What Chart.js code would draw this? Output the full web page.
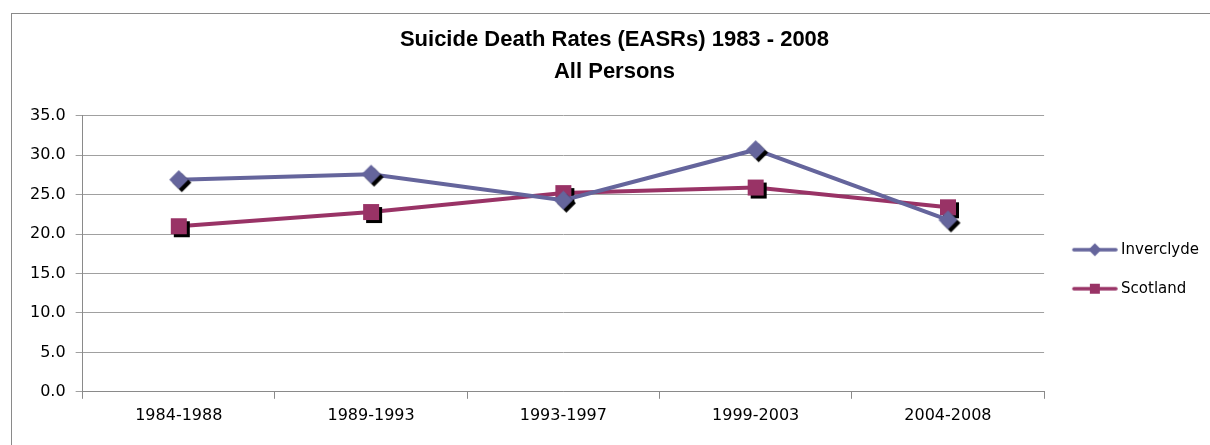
<!DOCTYPE html>
<html lang="en">
<head>
  <meta charset="UTF-8" />
  <title>Suicide Death Rates</title>
  <script src="https://cdn.jsdelivr.net/npm/chart.js"></script>
  <style>
    body {
      margin: 0;
      background: #fff;
      width: 1210px;
      height: 445px;
      overflow: hidden;
      position: relative;
    }
    .frame {
      position: absolute;
      left: 11px;
      top: 13px;
      width: 1300px;
      height: 500px;
      border-top: 1px solid #8a8a8a;
      border-left: 1px solid #8a8a8a;
    }
    .wrap {
      position: absolute;
      left: 0;
      top: 0;
      width: 1210px;
      height: 445px;
    }
  </style>
</head>
<body>
  <div class="frame"></div>
  <div class="wrap"><canvas id="rates"></canvas></div>

  <script>
    const periods = ['1984-1988', '1989-1993', '1993-1997', '1999-2003', '2004-2008'];
    const inverclyde = [26.9, 27.6, 24.3, 30.7, 21.8];
    const scotland = [21.0, 22.8, 25.2, 25.9, 23.4];
    const titleLines = ['Suicide Death Rates (EASRs) 1983 - 2008', 'All Persons'];

    const blue = '#65659c';
    const plum = '#993366';

    function shape(ctx, kind, cx, cy, r) {
      ctx.beginPath();
      if (kind === 'diamond') {
        ctx.moveTo(cx, cy - r);
        ctx.lineTo(cx + r, cy);
        ctx.lineTo(cx, cy + r);
        ctx.lineTo(cx - r, cy);
      } else {
        ctx.rect(cx - r, cy - r, r * 2, r * 2);
      }
      ctx.closePath();
      ctx.fill();
    }

    // marker with the little black drop shadow
    function marker(kind, color, r) {
      const size = Math.ceil((r + 4) * 2);
      const c = document.createElement('canvas');
      c.width = size;
      c.height = size;
      const ctx = c.getContext('2d');
      const m = size / 2;
      ctx.fillStyle = '#000';
      shape(ctx, kind, m + 3, m + 3, r);
      ctx.fillStyle = color;
      shape(ctx, kind, m, m, r);
      return c;
    }

    // legend sample: line with marker on it, blank margin on the left
    function legendIcon(kind, color, r) {
      const c = document.createElement('canvas');
      c.width = 54;
      c.height = 16;
      const ctx = c.getContext('2d');
      ctx.strokeStyle = color;
      ctx.lineWidth = 3.5;
      ctx.lineCap = 'round';
      ctx.beginPath();
      ctx.moveTo(10, 8);
      ctx.lineTo(52, 8);
      ctx.stroke();
      ctx.fillStyle = color;
      shape(ctx, kind, 31, 8, r);
      return c;
    }

    const series = [
      { label: 'Inverclyde', data: inverclyde, color: blue, kind: 'diamond', r: 9.5, lr: 6.5 },
      { label: 'Scotland', data: scotland, color: plum, kind: 'square', r: 8, lr: 5 }
    ];

    const FONT = "'DejaVu Sans', sans-serif";

    new Chart(document.getElementById('rates'), {
      type: 'line',
      data: {
        labels: periods,
        datasets: series.map(s => ({
          label: s.label,
          data: s.data,
          borderColor: s.color,
          backgroundColor: s.color,
          borderWidth: 4,
          tension: 0,
          pointStyle: marker(s.kind, s.color, s.r),
          legendIcon: legendIcon(s.kind, s.color, s.lr)
        }))
      },
      options: {
        responsive: true,
        maintainAspectRatio: false,
        animation: false,
        layout: { padding: { left: 20, right: 1, top: 24, bottom: 13 } },
        plugins: {
          title: {
            display: true,
            text: titleLines,
            color: '#000',
            font: { family: "'Liberation Sans', Arial, sans-serif", size: 22, weight: 'bold', lineHeight: 1.45 },
            padding: { top: 0, bottom: 28 }
          },
          legend: {
            position: 'right',
            // empty title only pushes the entries down to where they sit in the original
            title: { display: true, text: ' ', color: '#000', font: { size: 12 }, padding: { top: 68, bottom: 0 } },
            labels: {
              usePointStyle: true,
              pointStyleWidth: 45.5,
              padding: 24,
              color: '#000',
              font: { family: FONT, size: 15 },
              generateLabels: chart => chart.data.datasets.map((ds, i) => ({
                text: ds.label,
                fontColor: '#000',
                pointStyle: ds.legendIcon,
                fillStyle: ds.borderColor,
                strokeStyle: ds.borderColor,
                lineWidth: 0,
                datasetIndex: i,
                hidden: false
              }))
            }
          },
          tooltip: { enabled: false }
        },
        scales: {
          x: {
            offset: true,
            grid: { offset: true, drawOnChartArea: false, tickLength: 7, color: '#8a8a8a' },
            border: { color: '#8a8a8a' },
            ticks: { color: '#000', font: { family: FONT, size: 16 }, padding: 7, maxRotation: 0 }
          },
          y: {
            min: 0,
            max: 35,
            ticks: {
              stepSize: 5,
              color: '#000',
              font: { family: FONT, size: 16 },
              padding: 10,
              callback: v => v.toFixed(1)
            },
            grid: { color: '#a0a0a0', tickLength: 7 },
            border: { color: '#8a8a8a' }
          }
        }
      }
    });
  </script>
</body>
</html>
